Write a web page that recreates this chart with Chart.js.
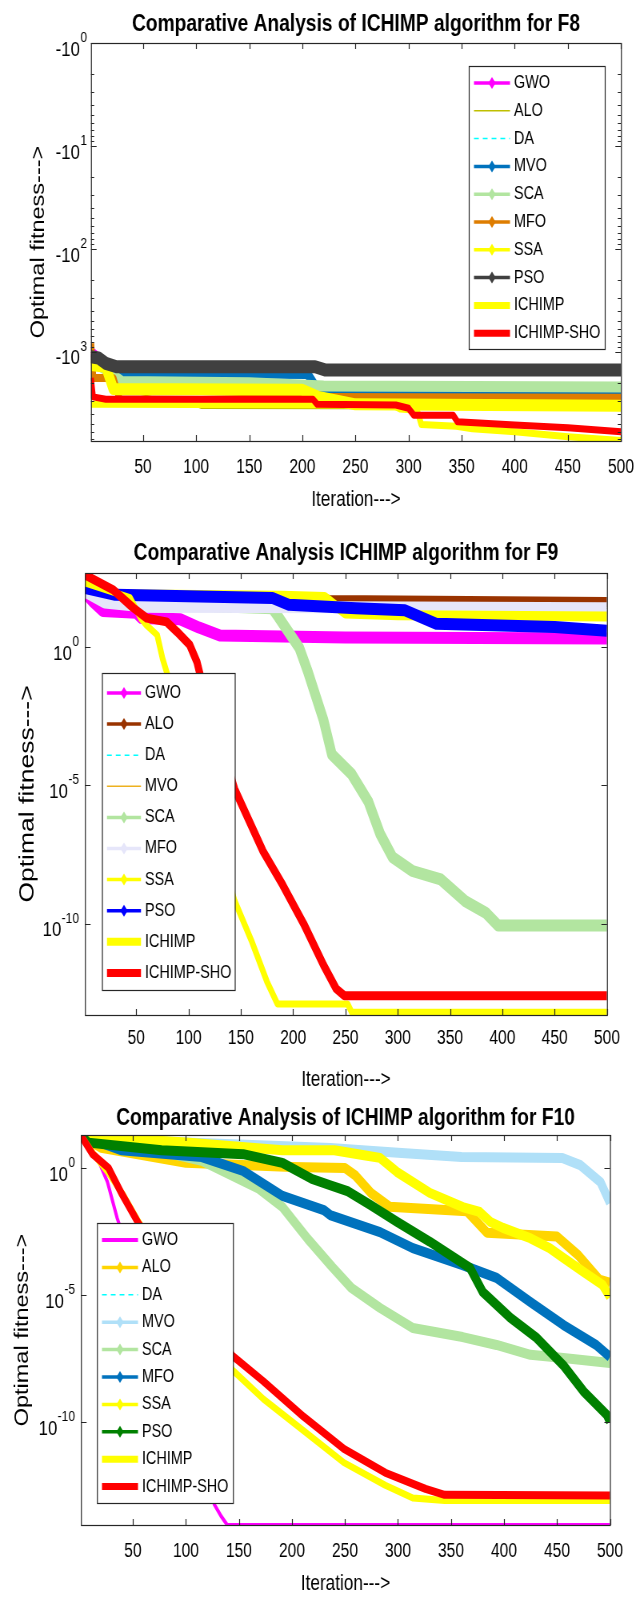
<!DOCTYPE html>
<html>
<head>
<meta charset="utf-8">
<script src="https://cdn.jsdelivr.net/npm/chart.js@4.4.1/dist/chart.umd.min.js"></script>
<style>
  body { margin: 0; background: #fff; overflow: hidden; }
  /* the original figure is stretched tall, so each panel is drawn wider and squeezed */
  .panel { position: absolute; left: 0; width: 794px; transform: scaleX(0.8); transform-origin: 0 0; }
</style>
</head>
<body>
<div class="panel" style="top:0;height:513px"><canvas id="f8"></canvas></div>
<div class="panel" style="top:513px;height:580px"><canvas id="f9"></canvas></div>
<div class="panel" style="top:1093px;height:504px"><canvas id="f10"></canvas></div>
<script>
const FONT = '"Liberation Sans", Arial, sans-serif';

// Shared labels and ticks
const seriesLabels = ['GWO', 'ALO', 'DA', 'MVO', 'SCA', 'MFO', 'SSA', 'PSO', 'ICHIMP', 'ICHIMP-SHO'];
const xTicks = [50, 100, 150, 200, 250, 300, 350, 400, 450, 500];

// F8: [iteration, optimal fitness]
const f8Gwo = [[1, -1000], [8, -1150], [15, -1350], [30, -1550], [110, -1600], [115, -2300], [220, -2450], [500, -2500]];
const f8Alo = [[1, -1100], [25, -2300], [100, -3400], [105, -3550], [500, -3600]];
const f8Da = [[1, -1050], [8, -1250], [30, -1600], [205, -1650], [215, -2400], [500, -2500]];
const f8Mvo = [[1, -1050], [8, -1250], [30, -1600], [205, -1650], [215, -2400], [500, -2500]];
const f8Sca = [[1, -1200], [15, -1500], [30, -1950], [150, -2000], [220, -2150], [500, -2200]];
const f8Mfo = [[1, -830], [3, -1800], [22, -1800], [28, -2900], [105, -2950], [220, -2750], [500, -2800]];
const f8Ssa = [[1, -1350], [15, -1400], [22, -2300], [200, -2350], [215, -2750], [250, -3250], [500, -3350]];
const f8Pso = [[1, -1120], [8, -1150], [15, -1300], [25, -1400], [212, -1400], [222, -1510], [500, -1510]];
const f8Ichimp = [[1, -3250], [285, -3300], [292, -3600], [308, -3700], [312, -5100], [345, -5300], [360, -5600], [400, -6000], [450, -6700], [500, -7300]];
const f8IchimpSho = [[1, -1800], [3, -2750], [15, -2900], [210, -2900], [214, -3250], [288, -3300], [300, -3550], [305, -4150], [342, -4150], [346, -4800], [400, -5150], [450, -5500], [500, -6000]];
const f8YTicks = [1, 10, 100, 1000];

// F9
const f9Gwo = [[1, 89], [8, 45], [18, 20], [50, 17], [55, 11], [92, 10], [110, 5], [130, 2.6], [250, 2.2], [500, 2.0]];
const f9Alo = [[1, 130], [30, 70], [225, 56], [235, 50], [500, 42]];
const f9Da = [[1, 100], [20, 40], [60, 28], [250, 27], [500, 25]];
const f9Mvo = [[1, 100], [20, 40], [60, 28], [250, 27], [500, 25]];
const f9Sca = [[1, 150], [30, 40], [180, 25], [186, 12], [206, 0.9], [214, 0.13], [229, 2.3e-3], [237, 1.3e-4], [256, 2.5e-5], [272, 2.5e-6], [283, 1.8e-7], [295, 2.5e-8], [314, 8e-9], [341, 4e-9], [365, 6.3e-10], [384, 2.5e-10], [396, 8.5e-11], [500, 8.5e-11]];
const f9Mfo = [[1, 100], [20, 40], [60, 28], [250, 27], [500, 25]];
const f9Ssa = [[1, 130], [30, 80], [190, 70], [230, 63], [250, 16], [300, 14], [500, 12.6]];
const f9Pso = [[1, 135], [30, 76], [180, 59], [196, 33], [260, 25], [307, 21], [337, 6.8], [450, 5.2], [500, 3.8]];
const f9Ichimp = [[1, 204], [44, 60], [55, 10], [60, 6], [70, 2.7], [75, 0.4], [79, 0.126], [144, 6.8e-10], [160, 2.5e-11], [175, 8e-13], [185, 1.26e-13], [252, 1.26e-13], [256, 6.3e-14], [500, 6.3e-14]];
const f9IchimpSho = [[1, 400], [28, 115], [47, 26], [60, 11], [79, 8], [89, 3.5], [101, 1.2], [108, 0.29], [111, 0.1], [144, 7.4e-6], [171, 4.3e-8], [190, 2.5e-9], [210, 1e-10], [229, 3.2e-12], [241, 4.5e-13], [249, 2.5e-13], [500, 2.5e-13]];
const f9YTicks = [1, 1e-5, 1e-10];

// F10
const f10Gwo = [[1, 19], [16, 2.7], [26, 0.28], [35, 0.011], [127, 5.4e-14], [133, 2e-14], [139, 8.7e-15], [500, 8.7e-15]];
const f10Alo = [[1, 19], [20, 6.3], [60, 3.2], [100, 1.6], [200, 1.1], [250, 1.0], [260, 0.5], [275, 0.1], [292, 0.03], [365, 0.02], [384, 2.8e-3], [450, 2e-3], [470, 3.7e-4], [490, 4e-5], [500, 3e-5]];
const f10Da = [[1, 19], [100, 10], [191, 5], [240, 5], [268, 3.2], [283, 2.5], [299, 0.7], [330, 0.105], [361, 0.029], [377, 0.0186], [387, 7.6e-3], [399, 4.4e-3], [425, 1.7e-3], [443, 7e-4], [456, 2.9e-4], [475, 8.1e-5], [493, 2.5e-5], [500, 8.3e-6]];
const f10Mvo = [[1, 19], [20, 14], [100, 10], [200, 7], [236, 6.2], [300, 4], [360, 2.7], [455, 2.5], [472, 1.3], [491, 0.28], [500, 0.042]];
const f10Sca = [[1, 19], [50, 8], [115, 1.9], [169, 0.15], [191, 0.029], [215, 1.6e-3], [238, 1.26e-4], [256, 1.9e-5], [283, 3.1e-6], [314, 5e-7], [361, 2.2e-7], [393, 1.07e-7], [425, 4.4e-8], [456, 3.3e-8], [500, 2.1e-8]];
const f10Mfo = [[1, 19], [39, 5], [115, 2.7], [154, 0.76], [191, 0.08], [230, 0.022], [236, 0.014], [283, 3e-3], [314, 7e-4], [361, 1.5e-4], [393, 4.7e-5], [425, 5.2e-6], [456, 6.6e-7], [487, 1.07e-7], [500, 3.6e-8]];
const f10Ssa = [[1, 19], [100, 10], [191, 5], [240, 5], [268, 3.2], [283, 2.5], [299, 0.7], [330, 0.105], [361, 0.029], [377, 0.0186], [387, 7.6e-3], [399, 4.4e-3], [425, 1.7e-3], [443, 7e-4], [456, 2.9e-4], [475, 8.1e-5], [493, 2.5e-5], [500, 8.3e-6]];
const f10Pso = [[1, 19], [8, 10], [77, 5], [154, 3.5], [191, 1.6], [219, 0.37], [236, 0.21], [253, 0.12], [274, 0.035], [299, 7.6e-3], [330, 1.26e-3], [368, 1.15e-4], [380, 1.3e-5], [406, 1.26e-6], [431, 2e-7], [456, 1.7e-8], [475, 1.6e-9], [497, 1.9e-10], [500, 1e-10]];
const f10Ichimp = [[1, 19], [12, 4], [27, 0.63], [40, 0.1], [55, 8e-3], [144, 1.1e-8], [173, 8e-10], [211, 4.5e-11], [249, 2.5e-12], [288, 3.2e-13], [314, 1e-13], [344, 8e-14], [500, 8e-14]];
const f10IchimpSho = [[1, 19], [12, 3.5], [27, 1], [39, 0.105], [55, 6.9e-3], [144, 4e-8], [173, 4e-9], [211, 1.6e-10], [249, 8.7e-12], [288, 1e-12], [326, 2.3e-13], [344, 1.35e-13], [500, 1.26e-13]];
const f10YTicks = [1, 1e-5, 1e-10];

// Styles for each panel (same series order as seriesLabels)
const f8Style = {
  colors: ['#FF00FF', '#BFBF00', '#00FFFF', '#0072BD', '#B2E5A0', '#DE7D00', '#FFFF00', '#404040', '#FFFF00', '#FF0000'],
  widths: [10, 1.5, 1.5, 10, 11, 8, 12, 13, 7, 7],
  legendWidths: [3.5, 1.5, 1.5, 3.5, 3.5, 3.5, 3.5, 3.5, 7, 7],
  markers: [true, false, false, true, true, true, true, true, false, false]
};
const f9Style = {
  colors: ['#FF00FF', '#993300', '#00FFFF', '#EDB120', '#B2E5A0', '#E6E6FA', '#FFFF00', '#0000FF', '#FFFF00', '#FF0000'],
  widths: [12, 10, 1.5, 1.5, 12, 12, 10, 12, 7, 9],
  legendWidths: [3.5, 3.5, 1.5, 1.5, 3.5, 3.5, 3.5, 3.5, 8, 8],
  markers: [true, true, false, false, true, true, true, true, false, false]
};
const f10Style = {
  colors: ['#FF00FF', '#FFD500', '#00FFFF', '#B0E0F8', '#B2E5A0', '#0072BD', '#FFFF00', '#008000', '#FFFF00', '#FF0000'],
  widths: [4, 10, 1.5, 10, 10, 10, 10, 10, 7, 8],
  legendWidths: [4, 3.5, 1.5, 3.5, 3.5, 3.5, 3.5, 3.5, 7, 7],
  markers: [false, true, false, true, true, true, true, true, false, false]
};

function buildDatasets(series, style, toPlot) {
  return series.map((pts, i) => ({
    label: seriesLabels[i],
    data: pts.map(([x, y]) => ({ x, y: toPlot ? toPlot(y) : y })),
    borderColor: style.colors[i],
    backgroundColor: style.colors[i],
    borderWidth: style.widths[i],
    borderDash: i === 2 ? [6, 5] : [],
    borderJoinStyle: 'round',
    pointRadius: 0,
    tension: 0,
    order: series.length - i,
    marker: style.markers[i],
    legendWidth: style.legendWidths[i]
  }));
}

// Draws the MATLAB-like box, inner tick marks and exponent labels
const axesBox = {
  id: 'axesBox',
  afterDatasetsDraw(chart, args, o) {
    const { ctx, chartArea: a } = chart;
    const xs = chart.scales.x, ys = chart.scales.y;
    ctx.save();
    ctx.strokeStyle = '#262626';
    ctx.lineWidth = 1.2;
    ctx.strokeRect(a.left + 0.5, a.top + 0.5, a.right - a.left, a.bottom - a.top);
    ctx.beginPath();
    xs.ticks.forEach(t => {
      const px = Math.round(xs.getPixelForValue(t.value)) + 0.5;
      ctx.moveTo(px, a.bottom); ctx.lineTo(px, a.bottom - 6);
      ctx.moveTo(px, a.top); ctx.lineTo(px, a.top + 6);
    });
    ys.ticks.forEach(t => {
      const py = Math.round(ys.getPixelForValue(t.value)) + 0.5;
      ctx.moveTo(a.left, py); ctx.lineTo(a.left + 7, py);
      ctx.moveTo(a.right, py); ctx.lineTo(a.right - 7, py);
    });
    if (o.minor) {
      for (let d = 0; d < 4; d++) {
        for (let k = 2; k <= 9; k++) {
          const v = k * Math.pow(10, d);
          if (v > ys.max) continue;
          const py = Math.round(ys.getPixelForValue(v)) + 0.5;
          ctx.moveTo(a.left, py); ctx.lineTo(a.left + 4, py);
          ctx.moveTo(a.right, py); ctx.lineTo(a.right - 4, py);
        }
      }
    }
    ctx.stroke();

    ctx.fillStyle = '#000';
    ctx.textAlign = 'right';
    ctx.textBaseline = 'middle';
    ys.ticks.forEach(t => {
      const py = ys.getPixelForValue(t.value);
      const exp = String(Math.round(Math.log10(t.value)));
      const xr = a.left - o.gap;
      ctx.font = `15px ${FONT}`;
      const ew = ctx.measureText(exp).width;
      ctx.fillText(exp, xr, py - 5);
      ctx.font = `21px ${FONT}`;
      ctx.fillText(o.prefix + '10', xr - ew - 0.5, py + 7);
    });
    ctx.restore();
  }
};

// Boxed legend placed inside the axes
const boxLegend = {
  id: 'boxLegend',
  afterDatasetsDraw(chart, args, o) {
    const ctx = chart.ctx;
    ctx.save();
    ctx.fillStyle = '#fff';
    ctx.fillRect(o.left, o.top, o.width, o.height);
    ctx.strokeStyle = '#262626';
    ctx.lineWidth = 1.2;
    ctx.strokeRect(o.left + 0.5, o.top + 0.5, o.width, o.height);
    chart.data.datasets.forEach((ds, i) => {
      const y = o.firstRow + i * o.rowGap;
      const x1 = o.sampleX, x2 = o.sampleX + o.sampleLen, xm = (x1 + x2) / 2;
      ctx.strokeStyle = ds.borderColor;
      ctx.lineWidth = ds.legendWidth;
      ctx.setLineDash(ds.borderDash.length ? [6, 5] : []);
      ctx.beginPath();
      ctx.moveTo(x1, y);
      ctx.lineTo(x2, y);
      ctx.stroke();
      ctx.setLineDash([]);
      if (ds.marker) {
        ctx.fillStyle = ds.borderColor;
        ctx.beginPath();
        ctx.moveTo(xm, y - 6);
        ctx.lineTo(xm + 4.5, y);
        ctx.lineTo(xm, y + 6);
        ctx.lineTo(xm - 4.5, y);
        ctx.closePath();
        ctx.fill();
      }
      ctx.fillStyle = '#000';
      ctx.font = `18px ${FONT}`;
      ctx.textAlign = 'left';
      ctx.textBaseline = 'middle';
      ctx.fillText(ds.label, o.textX, y);
    });
    ctx.restore();
  }
};

function makeChart(id, cfg) {
  return new Chart(document.getElementById(id), {
    type: 'line',
    data: { datasets: cfg.datasets },
    plugins: [axesBox, boxLegend],
    options: {
      responsive: true,
      maintainAspectRatio: false,
      animation: false,
      devicePixelRatio: 1,
      layout: { padding: cfg.padding },
      plugins: {
        legend: { display: false },
        tooltip: { enabled: false },
        title: {
          display: true,
          text: cfg.title,
          fullSize: false,
          color: '#000',
          font: { family: FONT, size: 24, weight: 'bold' },
          padding: cfg.titlePadding
        },
        axesBox: cfg.box,
        boxLegend: cfg.legend
      },
      scales: {
        x: {
          type: 'linear',
          min: 1,
          max: 500,
          afterBuildTicks: s => { s.ticks = xTicks.map(v => ({ value: v })); },
          afterFit: s => { s.height = cfg.xHeight; },
          // tick marks are drawn by axesBox; tickLength only offsets the labels
          grid: { display: false, drawTicks: true, tickLength: cfg.xTickPad },
          border: { display: false },
          ticks: {
            color: '#000',
            autoSkip: false,
            maxRotation: 0,
            padding: 0,
            font: { family: FONT, size: 19.5 }
          },
          title: {
            display: true,
            text: 'Iteration--->',
            color: '#000',
            padding: 0,
            font: { family: FONT, size: 21.5 }
          }
        },
        y: {
          type: 'logarithmic',
          min: cfg.yMin,
          max: cfg.yMax,
          reverse: !!cfg.reverse,
          afterBuildTicks: s => { s.ticks = cfg.yTicks.map(v => ({ value: v })); },
          afterFit: s => { s.width = cfg.yWidth; },
          grid: { display: false, drawTicks: false },
          border: { display: false },
          ticks: { display: false },
          title: {
            display: true,
            text: 'Optimal fitness--->',
            color: '#000',
            padding: 0,
            font: { family: FONT, size: cfg.yTitleSize }
          }
        }
      }
    }
  });
}

makeChart('f8', {
  title: 'Comparative Analysis of ICHIMP algorithm for F8',
  datasets: buildDatasets([f8Gwo, f8Alo, f8Da, f8Mvo, f8Sca, f8Mfo, f8Ssa, f8Pso, f8Ichimp, f8IchimpSho], f8Style, v => Math.abs(v)),
  padding: { left: 34, right: 17.75, top: 0, bottom: 0 },
  titlePadding: { top: 10.1, bottom: 4.1 },
  xHeight: 72, xTickPad: 15.3, yWidth: 79.75, yTitleSize: 23.5,
  yMin: 1, yMax: Math.pow(10, 3.868), reverse: true, yTicks: f8YTicks,
  box: { prefix: '-', gap: 5, minor: true },
  legend: { left: 586, top: 66, width: 170, height: 283, firstRow: 83, rowGap: 27.8, sampleX: 592.5, sampleLen: 45, textX: 642.5 }
});

makeChart('f9', {
  title: 'Comparative Analysis ICHIMP algorithm for F9',
  datasets: buildDatasets([f9Gwo, f9Alo, f9Da, f9Mvo, f9Sca, f9Mfo, f9Ssa, f9Pso, f9Ichimp, f9IchimpSho], f9Style),
  padding: { left: 19, right: 35.25, top: 0, bottom: 0 },
  titlePadding: { top: 25.6, bottom: 5.6 },
  xHeight: 78, xTickPad: 12.3, yWidth: 87.25, yTitleSize: 26.5,
  yMin: Math.pow(10, -13.3), yMax: Math.pow(10, 2.67), yTicks: f9YTicks,
  box: { prefix: '', gap: 7.5, minor: false },
  legend: { left: 127.5, top: 160, width: 166, height: 317, firstRow: 180, rowGap: 31.1, sampleX: 133.75, sampleLen: 42.5, textX: 181.25 }
});

makeChart('f10', {
  title: 'Comparative Analysis of ICHIMP algorithm for F10',
  datasets: buildDatasets([f10Gwo, f10Alo, f10Da, f10Mvo, f10Sca, f10Mfo, f10Ssa, f10Pso, f10Ichimp, f10IchimpSho], f10Style),
  padding: { left: 14.65, right: 31.5, top: 0, bottom: 0 },
  titlePadding: { top: 10.6, bottom: 2.6 },
  xHeight: 72, xTickPad: 14.8, yWidth: 86.6, yTitleSize: 23.5,
  yMin: Math.pow(10, -14.06), yMax: Math.pow(10, 1.3), yTicks: f10YTicks,
  box: { prefix: '', gap: 7.5, minor: false },
  legend: { left: 121.25, top: 130, width: 170, height: 280, firstRow: 147, rowGap: 27.4, sampleX: 127.5, sampleLen: 45, textX: 177.5 }
});
</script>
</body>
</html>
